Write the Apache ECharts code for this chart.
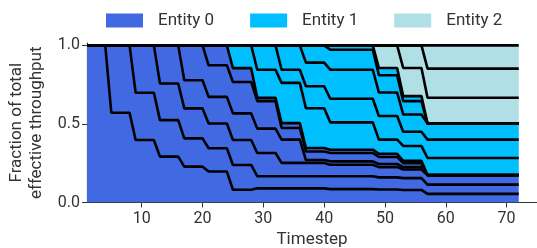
<!DOCTYPE html>
<html>
<head>
<meta charset="utf-8">
<script src="https://cdn.jsdelivr.net/npm/echarts@6/dist/echarts.min.js"></script>
<style>
html, body { margin: 0; padding: 0; background: #fff; }
#chart { width: 537px; height: 248px; }
</style>
</head>
<body>
<div id="chart"></div>
<script>
// x categories: the axis runs 1..75, data covers 1..72
const axisSteps = [];
for (let t = 1; t <= 75; t++) axisSteps.push(String(t));
const timesteps = [];
for (let t = 1; t <= 72; t++) timesteps.push(t);

// each flow: when it enters and which entity it belongs to (bottom of stack first)
const entryTimes = [1, 4, 8, 12, 16, 20, 24, 28, 32, 36, 40, 48, 52, 56];
const flowEntity = [0, 0, 0, 0, 0, 0, 1, 1, 1, 1, 1, 2, 2, 2];
const entityNames = ['Entity 0', 'Entity 1', 'Entity 2'];
const entityColors = ['#4169e1', '#00bfff', '#b0e0e6'];

// cumulative boundaries, one array per period between entries
const bounds00 = [1];
const bounds01 = [0.571, 1];
const bounds02 = [0.398, 0.698, 1];
const bounds03 = [0.292, 0.524, 0.757, 1];
const bounds04 = [0.228, 0.408, 0.599, 0.778, 1];
const bounds05 = [0.197, 0.345, 0.503, 0.672, 0.873, 1];
const bounds06 = [0.081, 0.239, 0.398, 0.567, 0.767, 0.855, 1];
const bounds07 = [0.09, 0.167, 0.315, 0.47, 0.645, 0.666, 0.845, 1];
const bounds08 = [0.09, 0.167, 0.252, 0.40, 0.474, 0.505, 0.761, 0.845, 1];
const bounds09 = [0.09, 0.167, 0.252, 0.27, 0.325, 0.347, 0.60, 0.74, 0.89, 1];
const bounds10 = [0.085, 0.167, 0.24, 0.262, 0.315, 0.336, 0.51, 0.66, 0.845, 0.972, 1];
const bounds11 = [0.083, 0.16, 0.225, 0.245, 0.29, 0.31, 0.40, 0.55, 0.70, 0.81, 0.856, 1];
const bounds12 = [0.08, 0.155, 0.21, 0.225, 0.25, 0.265, 0.36, 0.45, 0.56, 0.645, 0.677, 0.856, 1];
const bounds13 = [0.055, 0.114, 0.174, 0.174, 0.174, 0.174, 0.283, 0.40, 0.502, 0.502, 0.502, 0.667, 0.852, 1];

const periods = [bounds00, bounds01, bounds02, bounds03, bounds04, bounds05, bounds06,
                 bounds07, bounds08, bounds09, bounds10, bounds11, bounds12, bounds13];

function periodOf(t) {
    let p = 0;
    for (let i = 1; i < entryTimes.length; i++) {
        if (entryTimes[i] < t) p = i;
    }
    return p;
}

function shareOf(k, t) {
    const b = periods[periodOf(t)];
    if (k >= b.length) return 0;
    return b[k] - (k > 0 ? b[k - 1] : 0);
}

const series = [];
// filled bands
for (let k = 0; k < entryTimes.length; k++) {
    const e = flowEntity[k];
    series.push({
        name: entityNames[e],
        type: 'line',
        stack: 'area',
        symbol: 'none',
        data: timesteps.map(t => shareOf(k, t)),
        itemStyle: { color: entityColors[e] },
        lineStyle: { width: 0 },
        areaStyle: { color: entityColors[e], opacity: 1 },
        z: 2
    });
}
// black boundary lines on top
for (let k = 0; k < entryTimes.length; k++) {
    series.push({
        name: 'flow ' + k,
        type: 'line',
        stack: 'lines',
        symbol: 'none',
        data: timesteps.map(t => shareOf(k, t)),
        lineStyle: { color: '#000', width: 2.6 },
        z: 3
    });
}

const tickAt = (idx, val) => Number(val) % 10 === 0;

const chart = echarts.init(document.getElementById('chart'));
chart.setOption({
    animation: false,
    textStyle: { fontFamily: 'Roboto' },
    legend: {
        left: 101,
        top: 7,
        icon: 'rect',
        itemWidth: 37,
        itemHeight: 14,
        itemGap: 36,
        textStyle: { fontSize: 17, color: '#333', padding: [0, 0, 0, 10] },
        data: entityNames.map((n, i) => ({ name: n, itemStyle: { color: entityColors[i], borderWidth: 0 } }))
    },
    grid: { left: 87, right: 0, top: 43, bottom: 45.5, outerBoundsMode: 'none' },
    xAxis: {
        type: 'category',
        data: axisSteps,
        boundaryGap: false,
        name: 'Timestep',
        nameLocation: 'middle',
        nameGap: 29,
        nameTextStyle: { fontSize: 17, color: '#333' },
        axisLine: { lineStyle: { color: '#333', width: 1.2 } },
        axisTick: { length: 5, interval: tickAt, lineStyle: { color: '#333' } },
        axisLabel: { fontSize: 16, color: '#333', margin: 8, interval: tickAt },
        splitLine: { show: false }
    },
    yAxis: {
        type: 'value',
        min: 0,
        max: 1.015,
        name: 'Fraction of total\neffective throughput',
        nameLocation: 'middle',
        nameGap: 38,
        nameTextStyle: { fontSize: 17, color: '#333', lineHeight: 20 },
        axisLine: { show: true, lineStyle: { color: '#333', width: 1.2 } },
        axisTick: { show: true, length: 5, customValues: [0, 0.5, 1], lineStyle: { color: '#333' } },
        axisLabel: { fontSize: 16, color: '#333', margin: 7, customValues: [0, 0.5, 1],
                     formatter: v => v.toFixed(1) },
        splitLine: { show: false }
    },
    series: series
});
</script>
</body>
</html>
